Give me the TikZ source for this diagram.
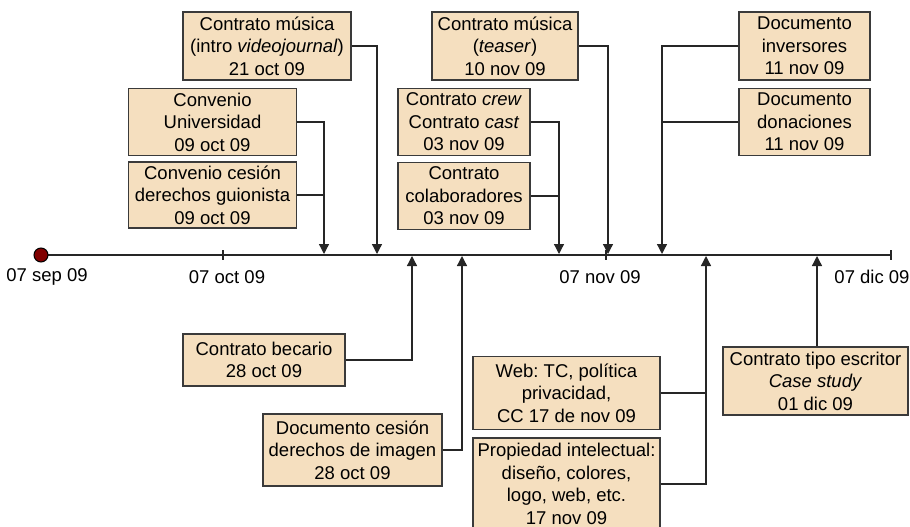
\documentclass[tikz,border=0pt]{standalone}
\usepackage{fontspec}
\setmainfont{Liberation Sans}
\frenchspacing
\usetikzlibrary{arrows.meta}
\definecolor{boxfill}{HTML}{F5DFBF}
\definecolor{boxline}{HTML}{3A3A3A}
\definecolor{dotred}{HTML}{800000}
\tikzset{
  evt/.style={draw=boxline, line width=1.2pt, fill=boxfill, align=center,
    inner sep=0pt, font=\fontsize{18.5}{22.5}\selectfont},
  link/.style={line width=1.3pt, draw=black!85},
  tolink/.style={link, -{Triangle[width=10pt,length=10pt]}},
  datelbl/.style={font=\fontsize{18.5}{22.5}\selectfont, inner sep=0pt},
}
\begin{document}
\begin{tikzpicture}[x=1pt,y=-1pt]
\useasboundingbox (0,0) rectangle (910,527);
\begin{scope}
\clip (0,0) rectangle (910,527);

% time axis
\coordinate (start) at (41,255);
\coordinate (axend) at (891,255);
\draw[link] (start) -- (axend);
\foreach \x in {223,606,891} \draw[link] (\x,250) -- (\x,260);
\node[circle, draw=black, line width=1pt, fill=dotred, minimum size=14pt, inner sep=0pt] (dot) at (start) {};
\node[datelbl] (lsep) at (47,277) {07 sep 09};
\node[datelbl] (loct) at (227,277) {07 oct 09};
\node[datelbl] (lnov) at (600,277) {07 nov 09};
\node[datelbl] (ldic) at (872,277) {07 dic 09};

% points on the axis
\coordinate (d09oct) at (324,254);
\coordinate (d21oct) at (377,254);
\coordinate (d28a) at (412,256);
\coordinate (d28b) at (462,256);
\coordinate (d03nov) at (559,254);
\coordinate (d10nov) at (608,254);
\coordinate (d11nov) at (662,254);
\coordinate (d17nov) at (706,256);
\coordinate (d01dic) at (817,256);

% events above the axis
\node[evt, minimum width=168pt, minimum height=68pt] (musica) at (267,46)
  {Contrato música\\(intro \textit{videojournal})\\21 oct 09};
\node[evt, minimum width=168pt, minimum height=67pt] (univ) at (212.5,122)
  {Convenio\\Universidad\\09 oct 09};
\node[evt, minimum width=168pt, minimum height=66pt] (guion) at (212.5,195)
  {Convenio cesión\\derechos guionista\\09 oct 09};
\node[evt, minimum width=146pt, minimum height=68pt] (teaser) at (505,46)
  {Contrato música\\(\textit{teaser})\\10 nov 09};
\node[evt, minimum width=132pt, minimum height=67pt] (crew) at (464,122)
  {Contrato \textit{crew}\\Contrato \textit{cast}\\03 nov 09};
\node[evt, minimum width=132pt, minimum height=67pt] (colab) at (464,196)
  {Contrato\\colaboradores\\03 nov 09};
\node[evt, minimum width=131pt, minimum height=68pt] (invers) at (804.5,46)
  {Documento\\inversores\\11 nov 09};
\node[evt, minimum width=131pt, minimum height=67pt] (donac) at (804.5,122)
  {Documento\\donaciones\\11 nov 09};

% events below the axis
\node[evt, minimum width=162pt, minimum height=52pt] (becario) at (264,360)
  {Contrato becario\\28 oct 09};
\node[evt, minimum width=179pt, minimum height=72pt] (imagen) at (352.5,450)
  {Documento cesión\\derechos de imagen\\28 oct 09};
\node[evt, minimum width=187pt, minimum height=73pt] (web) at (566.5,393)
  {Web: TC, política\\privacidad,\\CC 17 de nov 09};
\node[evt, minimum width=187pt, minimum height=92pt] (propint) at (566.5,484)
  {Propiedad intelectual:\\diseño, colores,\\logo, web, etc.\\17 nov 09};
\node[evt, minimum width=185pt, minimum height=68pt] (escritor) at (815.5,381)
  {Contrato tipo escritor\\\textit{Case study}\\01 dic 09};

% connectors
\draw[tolink] (musica.east) -| (d21oct);
\draw[tolink] (univ.east) -| (d09oct);
\draw[link] (guion.east) -- (guion.east -| d09oct);
\draw[tolink] (teaser.east) -| (d10nov);
\draw[tolink] (crew.east) -| (d03nov);
\draw[link] (colab.east) -- (colab.east -| d03nov);
\draw[tolink] (invers.west) -| (d11nov);
\draw[link] (donac.west) -- (donac.west -| d11nov);
\draw[tolink] (becario.east) -| (d28a);
\draw[tolink] (imagen.east) -| (d28b);
\draw[tolink] (propint.east) -| (d17nov);
\draw[link] (web.east) -- (web.east -| d17nov);
\draw[tolink] (escritor.north -| d01dic) -- (d01dic);
\end{scope}
\end{tikzpicture}
\end{document}
